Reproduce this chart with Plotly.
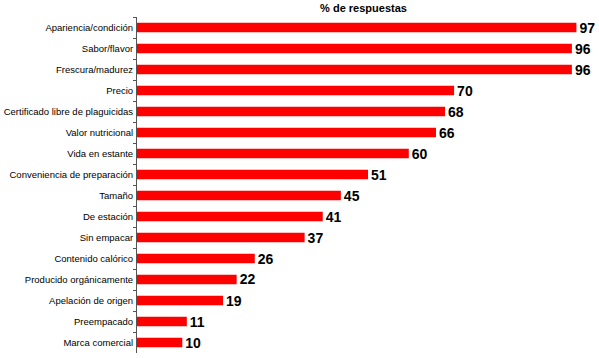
import plotly.graph_objects as go

categories = ["Apariencia/condición", "Sabor/flavor", "Frescura/madurez", "Precio",
              "Certificado libre de plaguicidas", "Valor nutricional", "Vida en estante",
              "Conveniencia de preparación", "Tamaño", "De estación", "Sin empacar",
              "Contenido calórico", "Producido orgánicamente", "Apelación de origen",
              "Preempacado", "Marca comercial"]
values = [97, 96, 96, 70, 68, 66, 60, 51, 45, 41, 37, 26, 22, 19, 11, 10]

fig = go.Figure(go.Bar(
    y=categories, x=values, orientation="h",
    marker=dict(color="#ff0000", line=dict(width=0)),
    text=[str(v) for v in values], textposition="outside",
    textfont=dict(family="Liberation Sans", size=14, color="black", weight="bold"),
    constraintext="none",
    cliponaxis=False, width=0.45,
))

fig.update_layout(
    width=599, height=358,
    margin=dict(l=137, r=9, t=17, b=5),
    paper_bgcolor="white", plot_bgcolor="white",
    showlegend=False,
    font=dict(family="Liberation Sans", size=9.5, color="black"),
    title=dict(text="<b>% de respuestas</b>", x=0.5, xref="paper", xanchor="center",
               y=1, yref="container", yanchor="top", pad=dict(t=4),
               font=dict(family="Liberation Sans", size=11, color="black")),
    xaxis=dict(range=[0, 100], visible=False, automargin=False),
    yaxis=dict(autorange="reversed", showline=True, linecolor="#555555", linewidth=1,
               ticks="outside", ticklen=3, tickcolor="#555555", tickson="boundaries",
               showgrid=False, ticklabelstandoff=1, automargin=False),
)

fig.write_html("out.html", config={"displayModeBar": False},
               post_script="document.body.style.margin='0';")
